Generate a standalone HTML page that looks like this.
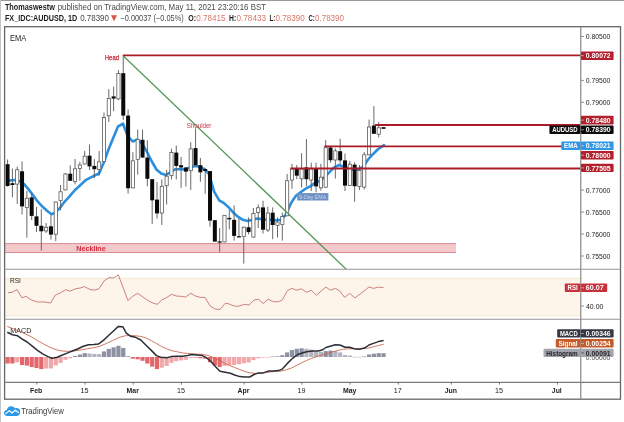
<!DOCTYPE html>
<html><head><meta charset="utf-8"><title>AUDUSD</title>
<style>html,body{margin:0;padding:0;background:#fff;}body{width:624px;height:422px;overflow:hidden;font-family:"Liberation Sans",sans-serif;}svg{display:block;will-change:transform;transform:translateZ(0)}text{font-family:"Liberation Sans",sans-serif;}</style>
</head><body>
<svg width="624" height="422" viewBox="0 0 624 422">
<rect x="0" y="0" width="624" height="422" fill="#fff"/>
<rect x="0" y="0" width="624" height="1" fill="#9a9a9a"/>
<rect x="0" y="0" width="1" height="422" fill="#c4c4c4"/>
<text x="4.9" y="10.1" font-size="8.4" fill="#1c1c1c" font-weight="bold" text-anchor="start" textLength="50" lengthAdjust="spacingAndGlyphs" >Thomaswestw</text>
<text x="57.7" y="10.1" font-size="8.4" fill="#4a4a4a" font-weight="normal" text-anchor="start" textLength="208.3" lengthAdjust="spacingAndGlyphs" >published on TradingView.com, May 11, 2021 23:20:16 BST</text>
<text x="4.9" y="20.8" font-size="8.4" fill="#1c1c1c" font-weight="bold" text-anchor="start" textLength="72.4" lengthAdjust="spacingAndGlyphs" >FX_IDC:AUDUSD, 1D</text>
<text x="80.2" y="20.8" font-size="8.4" fill="#4a4a4a" font-weight="normal" text-anchor="start" textLength="28.8" lengthAdjust="spacingAndGlyphs" >0.78390</text>
<path d="M111 15.2 L117 15.2 L114 21.2 Z" fill="#d9553f"/>
<text x="120.4" y="20.8" font-size="8.4" fill="#4a4a4a" font-weight="normal" text-anchor="start" textLength="63.4" lengthAdjust="spacingAndGlyphs" >−0.00037 (−0.05%)</text>
<text x="188.2" y="20.8" font-size="8.4" fill="#1c1c1c" font-weight="bold" text-anchor="start" textLength="7.8" lengthAdjust="spacingAndGlyphs" >O:</text>
<text x="196.2" y="20.8" font-size="8.4" fill="#d8786a" font-weight="normal" text-anchor="start" textLength="29.2" lengthAdjust="spacingAndGlyphs" >0.78415</text>
<text x="229.1" y="20.8" font-size="8.4" fill="#1c1c1c" font-weight="bold" text-anchor="start" textLength="7.2" lengthAdjust="spacingAndGlyphs" >H:</text>
<text x="236.5" y="20.8" font-size="8.4" fill="#d8786a" font-weight="normal" text-anchor="start" textLength="29.5" lengthAdjust="spacingAndGlyphs" >0.78433</text>
<text x="269.5" y="20.8" font-size="8.4" fill="#1c1c1c" font-weight="bold" text-anchor="start" textLength="5.8" lengthAdjust="spacingAndGlyphs" >L:</text>
<text x="275.5" y="20.8" font-size="8.4" fill="#d8786a" font-weight="normal" text-anchor="start" textLength="29.2" lengthAdjust="spacingAndGlyphs" >0.78390</text>
<text x="308.5" y="20.8" font-size="8.4" fill="#1c1c1c" font-weight="bold" text-anchor="start" textLength="6.3" lengthAdjust="spacingAndGlyphs" >C:</text>
<text x="315" y="20.8" font-size="8.4" fill="#d8786a" font-weight="normal" text-anchor="start" textLength="29" lengthAdjust="spacingAndGlyphs" >0.78390</text>
<rect x="4.5" y="278.3" width="576" height="37.5" fill="#fdf5e9"/>
<line x1="4.5" y1="278.3" x2="580.5" y2="278.3" stroke="#f6e3c8" stroke-width="0.8"/>
<line x1="4.5" y1="315.8" x2="580.5" y2="315.8" stroke="#f6e3c8" stroke-width="0.8"/>
<rect x="4.5" y="243.4" width="451.5" height="9.2" fill="#f3c9cc"/>
<line x1="4.5" y1="243.6" x2="456" y2="243.6" stroke="#dd8b95" stroke-width="1"/>
<line x1="4.5" y1="252.5" x2="456" y2="252.5" stroke="#dd8b95" stroke-width="1"/>
<text x="91" y="251.3" font-size="7.2" fill="#d02c3a" font-weight="bold" text-anchor="middle" textLength="29.5" lengthAdjust="spacingAndGlyphs" >Neckline</text>
<defs><clipPath id="mp"><rect x="4.5" y="27" width="576" height="242.3"/></clipPath></defs>
<polyline points="8.5,180.6 12.0,180.2 15.0,180.0 19.9,181.3 24.1,184.1 28.4,189.1 32.7,194.8 36.9,200.5 42.6,206.8 47.0,210.8 51.5,214.3 55.5,212.3 60.0,207.8 64.5,201.8 69.5,196.4 75.0,190.0 80.5,185.0 86.0,179.8 93.0,176.3 99.0,173.5 103.7,162.8 108.4,149.8 113.2,137.9 118.0,126.5 123.1,123.7 127.4,135.5 132.6,141.5 136.9,139.8 142.0,143.3 146.8,151.5 151.6,161.0 156.4,169.5 161.2,173.6 166.0,175.0 170.8,172.0 175.5,169.2 180.3,169.2 185.0,169.4 190.0,167.5 195.0,165.9 199.7,166.8 204.5,169.2 209.3,174.5 214.0,191.3 219.2,200.3 224.0,203.2 228.7,207.4 233.4,212.7 238.2,216.9 242.9,219.8 247.7,220.9 252.4,219.8 257.4,218.6 262.1,219.3 267.1,219.8 271.8,219.8 276.6,220.2 281.3,219.8 286.3,213.8 291.1,203.0 295.9,195.8 300.6,192.3 305.6,188.7 310.3,186.4 315.3,182.6 320.0,181.1 324.8,176.9 329.5,172.1 334.2,167.4 339.2,165.0 344.0,166.9 349.0,168.6 353.7,169.8 358.4,169.3 363.2,166.6 368.1,159.5 372.9,154.2 377.7,149.5 384.0,145.0" fill="none" stroke="#2b8fe0" stroke-width="2.6" stroke-linejoin="round" stroke-linecap="round"/>
<g>
<line x1="7.58" y1="159.5" x2="7.58" y2="186.7" stroke="#585858" stroke-width="0.9"/>
<rect x="5.58" y="164.2" width="4.0" height="21.8" fill="#0a0a0a"/>
<line x1="12.40" y1="168.5" x2="12.40" y2="197.4" stroke="#585858" stroke-width="0.9"/>
<rect x="10.40" y="183.2" width="4.0" height="1.8" fill="#0a0a0a"/>
<line x1="17.22" y1="166.6" x2="17.22" y2="204.0" stroke="#585858" stroke-width="0.9"/>
<rect x="15.62" y="169.8" width="3.2" height="14.3" fill="#fff" stroke="#505050" stroke-width="0.75"/>
<line x1="22.04" y1="161.4" x2="22.04" y2="214.5" stroke="#585858" stroke-width="0.9"/>
<rect x="20.04" y="171.3" width="4.0" height="35.1" fill="#0a0a0a"/>
<line x1="26.86" y1="190.8" x2="26.86" y2="237.7" stroke="#585858" stroke-width="0.9"/>
<rect x="25.26" y="198.3" width="3.2" height="9.3" fill="#fff" stroke="#505050" stroke-width="0.75"/>
<line x1="31.68" y1="192.7" x2="31.68" y2="220.0" stroke="#585858" stroke-width="0.9"/>
<rect x="29.68" y="197.4" width="4.0" height="18.5" fill="#0a0a0a"/>
<line x1="36.50" y1="206.9" x2="36.50" y2="231.8" stroke="#585858" stroke-width="0.9"/>
<rect x="34.50" y="216.4" width="4.0" height="9.4" fill="#0a0a0a"/>
<line x1="41.32" y1="209.2" x2="41.32" y2="250.5" stroke="#585858" stroke-width="0.9"/>
<rect x="39.32" y="225.8" width="4.0" height="5.5" fill="#0a0a0a"/>
<line x1="46.14" y1="223.0" x2="46.14" y2="233.0" stroke="#585858" stroke-width="0.9"/>
<rect x="44.54" y="227.3" width="3.2" height="3.6" fill="#fff" stroke="#505050" stroke-width="0.75"/>
<line x1="50.96" y1="215.2" x2="50.96" y2="239.6" stroke="#585858" stroke-width="0.9"/>
<rect x="48.96" y="226.3" width="4.0" height="8.3" fill="#0a0a0a"/>
<line x1="55.78" y1="201.7" x2="55.78" y2="241.2" stroke="#585858" stroke-width="0.9"/>
<rect x="54.18" y="202.0" width="3.2" height="32.2" fill="#fff" stroke="#505050" stroke-width="0.75"/>
<line x1="60.60" y1="185.0" x2="60.60" y2="210.4" stroke="#585858" stroke-width="0.9"/>
<rect x="59.00" y="191.8" width="3.2" height="8.8" fill="#fff" stroke="#505050" stroke-width="0.75"/>
<line x1="65.42" y1="173.0" x2="65.42" y2="190.3" stroke="#585858" stroke-width="0.9"/>
<rect x="63.82" y="174.0" width="3.2" height="15.9" fill="#fff" stroke="#505050" stroke-width="0.75"/>
<line x1="70.24" y1="165.4" x2="70.24" y2="181.0" stroke="#585858" stroke-width="0.9"/>
<rect x="68.24" y="173.7" width="4.0" height="7.1" fill="#0a0a0a"/>
<line x1="75.06" y1="159.0" x2="75.06" y2="184.4" stroke="#585858" stroke-width="0.9"/>
<rect x="73.46" y="168.8" width="3.2" height="12.8" fill="#fff" stroke="#505050" stroke-width="0.75"/>
<line x1="79.88" y1="161.8" x2="79.88" y2="180.8" stroke="#585858" stroke-width="0.9"/>
<rect x="78.28" y="165.0" width="3.2" height="3.6" fill="#fff" stroke="#505050" stroke-width="0.75"/>
<line x1="84.70" y1="151.0" x2="84.70" y2="164.5" stroke="#585858" stroke-width="0.9"/>
<rect x="83.10" y="156.2" width="3.2" height="7.8" fill="#fff" stroke="#505050" stroke-width="0.75"/>
<line x1="89.52" y1="144.5" x2="89.52" y2="170.0" stroke="#585858" stroke-width="0.9"/>
<rect x="87.52" y="155.7" width="4.0" height="10.7" fill="#0a0a0a"/>
<line x1="94.34" y1="159.2" x2="94.34" y2="178.2" stroke="#585858" stroke-width="0.9"/>
<rect x="92.34" y="165.9" width="4.0" height="3.3" fill="#0a0a0a"/>
<line x1="99.16" y1="151.0" x2="99.16" y2="175.8" stroke="#585858" stroke-width="0.9"/>
<rect x="97.56" y="161.9" width="3.2" height="7.7" fill="#fff" stroke="#505050" stroke-width="0.75"/>
<line x1="103.98" y1="112.5" x2="103.98" y2="162.0" stroke="#585858" stroke-width="0.9"/>
<rect x="102.38" y="117.5" width="3.2" height="44.1" fill="#fff" stroke="#505050" stroke-width="0.75"/>
<line x1="108.80" y1="89.1" x2="108.80" y2="122.0" stroke="#585858" stroke-width="0.9"/>
<rect x="107.20" y="98.4" width="3.2" height="17.4" fill="#fff" stroke="#505050" stroke-width="0.75"/>
<line x1="113.62" y1="86.7" x2="113.62" y2="111.1" stroke="#585858" stroke-width="0.9"/>
<rect x="111.62" y="96.4" width="4.0" height="2.2" fill="#0a0a0a"/>
<line x1="118.44" y1="70.1" x2="118.44" y2="100.0" stroke="#585858" stroke-width="0.9"/>
<rect x="116.84" y="73.5" width="3.2" height="25.4" fill="#fff" stroke="#505050" stroke-width="0.75"/>
<line x1="123.26" y1="55.2" x2="123.26" y2="120.0" stroke="#585858" stroke-width="0.9"/>
<rect x="121.26" y="73.2" width="4.0" height="42.4" fill="#0a0a0a"/>
<line x1="128.08" y1="109.4" x2="128.08" y2="193.6" stroke="#585858" stroke-width="0.9"/>
<rect x="126.08" y="115.6" width="4.0" height="72.6" fill="#0a0a0a"/>
<line x1="132.90" y1="152.2" x2="132.90" y2="188.2" stroke="#585858" stroke-width="0.9"/>
<rect x="131.30" y="160.8" width="3.2" height="27.1" fill="#fff" stroke="#505050" stroke-width="0.75"/>
<line x1="137.72" y1="129.6" x2="137.72" y2="174.6" stroke="#585858" stroke-width="0.9"/>
<rect x="136.12" y="139.4" width="3.2" height="19.9" fill="#fff" stroke="#505050" stroke-width="0.75"/>
<line x1="142.54" y1="129.6" x2="142.54" y2="157.6" stroke="#585858" stroke-width="0.9"/>
<rect x="140.54" y="139.8" width="4.0" height="17.8" fill="#0a0a0a"/>
<line x1="147.36" y1="140.3" x2="147.36" y2="186.3" stroke="#585858" stroke-width="0.9"/>
<rect x="145.36" y="157.6" width="4.0" height="21.2" fill="#0a0a0a"/>
<line x1="152.18" y1="179.0" x2="152.18" y2="224.0" stroke="#585858" stroke-width="0.9"/>
<rect x="150.18" y="179.2" width="4.0" height="21.1" fill="#0a0a0a"/>
<line x1="157.00" y1="182.0" x2="157.00" y2="218.6" stroke="#585858" stroke-width="0.9"/>
<rect x="155.00" y="199.6" width="4.0" height="13.8" fill="#0a0a0a"/>
<line x1="161.82" y1="179.4" x2="161.82" y2="225.0" stroke="#585858" stroke-width="0.9"/>
<rect x="160.22" y="186.3" width="3.2" height="26.7" fill="#fff" stroke="#505050" stroke-width="0.75"/>
<line x1="166.64" y1="170.0" x2="166.64" y2="204.4" stroke="#585858" stroke-width="0.9"/>
<rect x="165.04" y="176.2" width="3.2" height="9.5" fill="#fff" stroke="#505050" stroke-width="0.75"/>
<line x1="171.46" y1="148.6" x2="171.46" y2="179.5" stroke="#585858" stroke-width="0.9"/>
<rect x="169.86" y="152.4" width="3.2" height="23.0" fill="#fff" stroke="#505050" stroke-width="0.75"/>
<line x1="176.28" y1="145.5" x2="176.28" y2="179.4" stroke="#585858" stroke-width="0.9"/>
<rect x="174.28" y="152.6" width="4.0" height="13.3" fill="#0a0a0a"/>
<line x1="181.10" y1="156.9" x2="181.10" y2="187.8" stroke="#585858" stroke-width="0.9"/>
<rect x="179.10" y="165.2" width="4.0" height="2.3" fill="#0a0a0a"/>
<line x1="185.92" y1="167.0" x2="185.92" y2="186.5" stroke="#585858" stroke-width="0.9"/>
<rect x="183.92" y="167.5" width="4.0" height="4.1" fill="#0a0a0a"/>
<line x1="190.74" y1="142.2" x2="190.74" y2="190.0" stroke="#585858" stroke-width="0.9"/>
<rect x="189.14" y="148.9" width="3.2" height="21.8" fill="#fff" stroke="#505050" stroke-width="0.75"/>
<line x1="195.56" y1="128.4" x2="195.56" y2="165.2" stroke="#585858" stroke-width="0.9"/>
<rect x="193.56" y="148.1" width="4.0" height="17.1" fill="#0a0a0a"/>
<line x1="200.38" y1="158.0" x2="200.38" y2="181.8" stroke="#585858" stroke-width="0.9"/>
<rect x="198.38" y="165.2" width="4.0" height="7.1" fill="#0a0a0a"/>
<line x1="205.20" y1="168.7" x2="205.20" y2="193.7" stroke="#585858" stroke-width="0.9"/>
<rect x="203.20" y="169.0" width="4.0" height="2.0" fill="#0a0a0a"/>
<line x1="210.02" y1="171.0" x2="210.02" y2="226.6" stroke="#585858" stroke-width="0.9"/>
<rect x="208.02" y="171.1" width="4.0" height="49.5" fill="#0a0a0a"/>
<line x1="214.84" y1="220.0" x2="214.84" y2="241.6" stroke="#585858" stroke-width="0.9"/>
<rect x="212.84" y="220.2" width="4.0" height="21.4" fill="#0a0a0a"/>
<line x1="219.66" y1="228.0" x2="219.66" y2="251.8" stroke="#585858" stroke-width="0.9"/>
<rect x="217.66" y="241.4" width="4.0" height="1.2" fill="#0a0a0a"/>
<line x1="224.48" y1="215.0" x2="224.48" y2="242.3" stroke="#585858" stroke-width="0.9"/>
<rect x="222.88" y="215.3" width="3.2" height="26.6" fill="#fff" stroke="#505050" stroke-width="0.75"/>
<line x1="229.30" y1="210.3" x2="229.30" y2="229.2" stroke="#585858" stroke-width="0.9"/>
<rect x="227.30" y="217.9" width="4.0" height="1.4" fill="#0a0a0a"/>
<line x1="234.12" y1="205.5" x2="234.12" y2="240.6" stroke="#585858" stroke-width="0.9"/>
<rect x="232.12" y="219.8" width="4.0" height="16.1" fill="#0a0a0a"/>
<line x1="238.94" y1="218.6" x2="238.94" y2="237.5" stroke="#585858" stroke-width="0.9"/>
<rect x="236.94" y="236.2" width="4.0" height="1.2" fill="#0a0a0a"/>
<line x1="243.76" y1="226.5" x2="243.76" y2="263.6" stroke="#585858" stroke-width="0.9"/>
<rect x="242.16" y="227.2" width="3.2" height="9.4" fill="#fff" stroke="#505050" stroke-width="0.75"/>
<line x1="248.58" y1="217.4" x2="248.58" y2="234.5" stroke="#585858" stroke-width="0.9"/>
<rect x="246.58" y="227.3" width="4.0" height="4.8" fill="#0a0a0a"/>
<line x1="253.40" y1="207.9" x2="253.40" y2="237.5" stroke="#585858" stroke-width="0.9"/>
<rect x="251.80" y="213.4" width="3.2" height="23.7" fill="#fff" stroke="#505050" stroke-width="0.75"/>
<line x1="258.22" y1="204.4" x2="258.22" y2="228.0" stroke="#585858" stroke-width="0.9"/>
<rect x="256.62" y="207.8" width="3.2" height="4.6" fill="#fff" stroke="#505050" stroke-width="0.75"/>
<line x1="263.04" y1="200.8" x2="263.04" y2="233.5" stroke="#585858" stroke-width="0.9"/>
<rect x="261.04" y="207.4" width="4.0" height="22.3" fill="#0a0a0a"/>
<line x1="267.86" y1="206.7" x2="267.86" y2="232.0" stroke="#585858" stroke-width="0.9"/>
<rect x="266.26" y="213.0" width="3.2" height="17.0" fill="#fff" stroke="#505050" stroke-width="0.75"/>
<line x1="272.68" y1="207.4" x2="272.68" y2="239.2" stroke="#585858" stroke-width="0.9"/>
<rect x="270.68" y="212.7" width="4.0" height="12.3" fill="#0a0a0a"/>
<line x1="277.50" y1="217.4" x2="277.50" y2="237.5" stroke="#585858" stroke-width="0.9"/>
<rect x="275.90" y="222.0" width="3.2" height="3.3" fill="#fff" stroke="#505050" stroke-width="0.75"/>
<line x1="282.32" y1="212.7" x2="282.32" y2="240.6" stroke="#585858" stroke-width="0.9"/>
<rect x="280.72" y="216.5" width="3.2" height="8.1" fill="#fff" stroke="#505050" stroke-width="0.75"/>
<line x1="287.14" y1="174.0" x2="287.14" y2="216.2" stroke="#585858" stroke-width="0.9"/>
<rect x="285.54" y="180.8" width="3.2" height="35.0" fill="#fff" stroke="#505050" stroke-width="0.75"/>
<line x1="291.96" y1="163.8" x2="291.96" y2="188.7" stroke="#585858" stroke-width="0.9"/>
<rect x="290.36" y="168.9" width="3.2" height="11.2" fill="#fff" stroke="#505050" stroke-width="0.75"/>
<line x1="296.78" y1="165.0" x2="296.78" y2="179.2" stroke="#585858" stroke-width="0.9"/>
<rect x="294.78" y="168.6" width="4.0" height="7.1" fill="#0a0a0a"/>
<line x1="301.60" y1="153.2" x2="301.60" y2="187.5" stroke="#585858" stroke-width="0.9"/>
<rect x="300.00" y="168.9" width="3.2" height="9.9" fill="#fff" stroke="#505050" stroke-width="0.75"/>
<line x1="306.42" y1="139.0" x2="306.42" y2="186.4" stroke="#585858" stroke-width="0.9"/>
<rect x="304.42" y="167.4" width="4.0" height="11.8" fill="#0a0a0a"/>
<line x1="311.24" y1="162.7" x2="311.24" y2="191.0" stroke="#585858" stroke-width="0.9"/>
<rect x="309.64" y="168.9" width="3.2" height="11.1" fill="#fff" stroke="#505050" stroke-width="0.75"/>
<line x1="316.06" y1="162.7" x2="316.06" y2="192.3" stroke="#585858" stroke-width="0.9"/>
<rect x="314.06" y="168.6" width="4.0" height="17.8" fill="#0a0a0a"/>
<line x1="320.88" y1="163.8" x2="320.88" y2="190.6" stroke="#585858" stroke-width="0.9"/>
<rect x="319.28" y="177.2" width="3.2" height="10.6" fill="#fff" stroke="#505050" stroke-width="0.75"/>
<line x1="325.70" y1="140.1" x2="325.70" y2="187.5" stroke="#585858" stroke-width="0.9"/>
<rect x="324.10" y="147.7" width="3.2" height="39.5" fill="#fff" stroke="#505050" stroke-width="0.75"/>
<line x1="330.52" y1="147.0" x2="330.52" y2="162.7" stroke="#585858" stroke-width="0.9"/>
<rect x="328.52" y="147.5" width="4.0" height="12.7" fill="#0a0a0a"/>
<line x1="335.34" y1="148.4" x2="335.34" y2="178.5" stroke="#585858" stroke-width="0.9"/>
<rect x="333.74" y="150.9" width="3.2" height="9.1" fill="#fff" stroke="#505050" stroke-width="0.75"/>
<line x1="340.16" y1="138.8" x2="340.16" y2="163.8" stroke="#585858" stroke-width="0.9"/>
<rect x="338.16" y="151.2" width="4.0" height="9.2" fill="#0a0a0a"/>
<line x1="344.98" y1="153.6" x2="344.98" y2="191.0" stroke="#585858" stroke-width="0.9"/>
<rect x="342.98" y="160.4" width="4.0" height="25.2" fill="#0a0a0a"/>
<line x1="349.80" y1="161.0" x2="349.80" y2="186.0" stroke="#585858" stroke-width="0.9"/>
<rect x="348.20" y="164.2" width="3.2" height="21.4" fill="#fff" stroke="#505050" stroke-width="0.75"/>
<line x1="354.62" y1="162.3" x2="354.62" y2="201.8" stroke="#585858" stroke-width="0.9"/>
<rect x="352.62" y="164.6" width="4.0" height="21.6" fill="#0a0a0a"/>
<line x1="359.44" y1="165.0" x2="359.44" y2="190.0" stroke="#585858" stroke-width="0.9"/>
<rect x="357.84" y="170.5" width="3.2" height="16.1" fill="#fff" stroke="#505050" stroke-width="0.75"/>
<line x1="364.26" y1="152.0" x2="364.26" y2="189.5" stroke="#585858" stroke-width="0.9"/>
<rect x="362.66" y="154.8" width="3.2" height="32.3" fill="#fff" stroke="#505050" stroke-width="0.75"/>
<line x1="369.08" y1="119.6" x2="369.08" y2="155.2" stroke="#585858" stroke-width="0.9"/>
<rect x="367.48" y="127.0" width="3.2" height="27.8" fill="#fff" stroke="#505050" stroke-width="0.75"/>
<line x1="373.90" y1="106.1" x2="373.90" y2="133.8" stroke="#585858" stroke-width="0.9"/>
<rect x="371.90" y="125.5" width="4.0" height="8.3" fill="#0a0a0a"/>
<line x1="378.72" y1="122.0" x2="378.72" y2="137.4" stroke="#585858" stroke-width="0.9"/>
<rect x="377.12" y="127.8" width="3.2" height="6.4" fill="#fff" stroke="#505050" stroke-width="0.75"/>
<line x1="383.54" y1="127.2" x2="383.54" y2="128.8" stroke="#585858" stroke-width="0.9"/>
<rect x="381.54" y="127.2" width="4.0" height="1.6" fill="#0a0a0a"/>
</g>
<g clip-path="url(#mp)">
<line x1="123.4" y1="56" x2="352" y2="274.8" stroke="#54985a" stroke-width="1.3"/>
</g>
<line x1="122.9" y1="55.3" x2="580.5" y2="55.3" stroke="#ab1c2a" stroke-width="1.7"/>
<line x1="375" y1="125" x2="580.5" y2="125" stroke="#ab1c2a" stroke-width="1.8"/>
<line x1="324.3" y1="146.4" x2="580.5" y2="146.4" stroke="#ab1c2a" stroke-width="1.8"/>
<line x1="290.4" y1="168.5" x2="580.5" y2="168.5" stroke="#ab1c2a" stroke-width="1.8"/>
<rect x="297.2" y="193.1" width="31.2" height="7.4" fill="#6e8fc2"/>
<text x="312.8" y="199.2" font-size="5.6" fill="#c6d6ee" font-weight="normal" text-anchor="middle" textLength="27" lengthAdjust="spacingAndGlyphs" >9-Day EMA</text>
<text x="104.8" y="60" font-size="6.6" fill="#bf2c3c" font-weight="normal" text-anchor="start" textLength="14.2" lengthAdjust="spacingAndGlyphs" stroke="#bf2c3c" stroke-width="0.25">Head</text>
<text x="186.8" y="128.3" font-size="6.3" fill="#c43646" font-weight="normal" text-anchor="start" textLength="24.6" lengthAdjust="spacingAndGlyphs" >Shoulder</text>
<text x="10" y="40.5" font-size="8.2" fill="#222" font-weight="normal" text-anchor="start" textLength="16.2" lengthAdjust="spacingAndGlyphs" >EMA</text>
<text x="10" y="283.4" font-size="8" fill="#222" font-weight="normal" text-anchor="start" textLength="10.8" lengthAdjust="spacingAndGlyphs" >RSI</text>
<text x="10.3" y="333" font-size="8" fill="#222" font-weight="normal" text-anchor="start" textLength="21" lengthAdjust="spacingAndGlyphs" >MACD</text>
<polyline points="7.9,292.8 12.5,292.2 17.0,289.5 21.9,297.8 26.0,296.4 31.3,299.9 37.5,302.0 44.8,302.0 50.6,303.0 55.2,295.3 60.4,292.8 65.6,289.7 69.8,291.2 76.0,288.7 80.2,288.0 84.4,286.6 90.0,289.5 94.8,290.1 99.0,288.7 104.2,280.8 109.0,277.6 113.5,278.0 118.3,274.9 122.9,287.0 127.9,300.5 132.5,296.4 137.7,293.3 142.9,297.0 148.1,300.5 153.3,303.3 157.5,304.3 161.7,299.9 165.8,298.0 171.7,294.3 176.3,296.0 181.5,296.4 185.6,297.0 190.8,293.3 195.4,296.0 200.2,297.4 205.0,297.4 210.0,305.8 214.8,308.9 220.0,309.5 225.2,303.3 228.3,303.7 233.5,305.8 237.7,306.4 244.6,304.3 249.0,305.1 254.1,300.0 258.5,299.2 263.1,303.5 268.2,299.2 273.3,301.7 278.5,301.7 282.3,300.0 287.4,290.7 292.0,288.4 296.4,290.2 301.5,288.9 306.7,292.3 311.3,290.2 316.4,295.3 321.5,290.7 325.9,287.1 330.3,290.2 335.4,288.4 339.5,290.7 344.6,297.4 349.7,293.3 354.9,297.9 360.0,294.1 365.1,290.2 369.0,286.9 373.3,288.4 378.5,287.1 383.6,287.6" fill="none" stroke="#c9827c" stroke-width="1" stroke-linejoin="round"/>
<rect x="5.48" y="357.0" width="4.2" height="6.5" fill="#e2666a"/>
<rect x="10.30" y="357.0" width="4.2" height="6.5" fill="#e2666a"/>
<rect x="15.12" y="357.0" width="4.2" height="5.3" fill="#f1a8aa"/>
<rect x="19.94" y="357.0" width="4.2" height="8.0" fill="#e2666a"/>
<rect x="24.76" y="357.0" width="4.2" height="8.6" fill="#e2666a"/>
<rect x="29.58" y="357.0" width="4.2" height="10.0" fill="#e2666a"/>
<rect x="34.40" y="357.0" width="4.2" height="11.0" fill="#e2666a"/>
<rect x="39.22" y="357.0" width="4.2" height="12.1" fill="#e2666a"/>
<rect x="44.04" y="357.0" width="4.2" height="11.5" fill="#f1a8aa"/>
<rect x="48.86" y="357.0" width="4.2" height="11.5" fill="#f1a8aa"/>
<rect x="53.68" y="357.0" width="4.2" height="8.4" fill="#f1a8aa"/>
<rect x="58.50" y="357.0" width="4.2" height="5.9" fill="#f1a8aa"/>
<rect x="63.32" y="357.0" width="4.2" height="2.8" fill="#f1a8aa"/>
<rect x="68.14" y="357.0" width="4.2" height="1.3" fill="#f1a8aa"/>
<rect x="72.96" y="356.0" width="4.2" height="1.0" fill="#8d91a2"/>
<rect x="77.78" y="354.5" width="4.2" height="2.5" fill="#8d91a2"/>
<rect x="82.60" y="353.1" width="4.2" height="3.9" fill="#8d91a2"/>
<rect x="87.42" y="353.5" width="4.2" height="3.5" fill="#b2b5c0"/>
<rect x="92.24" y="353.9" width="4.2" height="3.1" fill="#b2b5c0"/>
<rect x="97.06" y="354.1" width="4.2" height="2.9" fill="#b2b5c0"/>
<rect x="101.88" y="351.4" width="4.2" height="5.6" fill="#8d91a2"/>
<rect x="106.70" y="348.9" width="4.2" height="8.1" fill="#8d91a2"/>
<rect x="111.52" y="347.3" width="4.2" height="9.7" fill="#8d91a2"/>
<rect x="116.34" y="345.8" width="4.2" height="11.2" fill="#8d91a2"/>
<rect x="121.16" y="347.9" width="4.2" height="9.1" fill="#8d91a2"/>
<rect x="125.98" y="356.0" width="4.2" height="1.0" fill="#b2b5c0"/>
<rect x="130.80" y="357.0" width="4.2" height="1.7" fill="#e2666a"/>
<rect x="135.62" y="357.0" width="4.2" height="2.3" fill="#e2666a"/>
<rect x="140.44" y="357.0" width="4.2" height="3.8" fill="#e2666a"/>
<rect x="145.26" y="357.0" width="4.2" height="6.5" fill="#e2666a"/>
<rect x="150.08" y="357.0" width="4.2" height="9.6" fill="#e2666a"/>
<rect x="154.90" y="357.0" width="4.2" height="12.1" fill="#e2666a"/>
<rect x="159.72" y="357.0" width="4.2" height="10.7" fill="#f1a8aa"/>
<rect x="164.54" y="357.0" width="4.2" height="9.0" fill="#f1a8aa"/>
<rect x="169.36" y="357.0" width="4.2" height="5.9" fill="#f1a8aa"/>
<rect x="174.18" y="357.0" width="4.2" height="4.2" fill="#f1a8aa"/>
<rect x="179.00" y="357.0" width="4.2" height="3.4" fill="#f1a8aa"/>
<rect x="183.82" y="357.0" width="4.2" height="2.8" fill="#f1a8aa"/>
<rect x="188.64" y="357.0" width="4.2" height="1.1" fill="#f1a8aa"/>
<rect x="193.46" y="357.0" width="4.2" height="1.0" fill="#f1a8aa"/>
<rect x="198.28" y="357.0" width="4.2" height="1.3" fill="#e2666a"/>
<rect x="203.10" y="357.0" width="4.2" height="1.7" fill="#e2666a"/>
<rect x="207.92" y="357.0" width="4.2" height="5.3" fill="#e2666a"/>
<rect x="212.74" y="357.0" width="4.2" height="8.4" fill="#e2666a"/>
<rect x="217.56" y="357.0" width="4.2" height="10.0" fill="#e2666a"/>
<rect x="222.38" y="357.0" width="4.2" height="9.0" fill="#f1a8aa"/>
<rect x="227.20" y="357.0" width="4.2" height="8.4" fill="#f1a8aa"/>
<rect x="232.02" y="357.0" width="4.2" height="8.0" fill="#f1a8aa"/>
<rect x="236.84" y="357.0" width="4.2" height="7.3" fill="#f1a8aa"/>
<rect x="241.66" y="357.0" width="4.2" height="6.2" fill="#f1a8aa"/>
<rect x="246.48" y="357.0" width="4.2" height="5.5" fill="#f1a8aa"/>
<rect x="251.30" y="357.0" width="4.2" height="3.1" fill="#f1a8aa"/>
<rect x="256.12" y="357.0" width="4.2" height="1.3" fill="#f1a8aa"/>
<rect x="260.94" y="357.0" width="4.2" height="0.6" fill="#f1a8aa"/>
<rect x="265.76" y="357.0" width="4.2" height="0.6" fill="#f1a8aa"/>
<rect x="270.58" y="356.5" width="4.2" height="0.6" fill="#8d91a2"/>
<rect x="275.40" y="356.3" width="4.2" height="0.7" fill="#8d91a2"/>
<rect x="280.22" y="355.2" width="4.2" height="1.8" fill="#8d91a2"/>
<rect x="285.04" y="352.4" width="4.2" height="4.6" fill="#8d91a2"/>
<rect x="289.86" y="350.1" width="4.2" height="6.9" fill="#8d91a2"/>
<rect x="294.68" y="348.8" width="4.2" height="8.2" fill="#8d91a2"/>
<rect x="299.50" y="348.3" width="4.2" height="8.7" fill="#8d91a2"/>
<rect x="304.32" y="348.8" width="4.2" height="8.2" fill="#b2b5c0"/>
<rect x="309.14" y="349.6" width="4.2" height="7.4" fill="#b2b5c0"/>
<rect x="313.96" y="351.4" width="4.2" height="5.6" fill="#b2b5c0"/>
<rect x="318.78" y="351.9" width="4.2" height="5.1" fill="#b2b5c0"/>
<rect x="323.60" y="351.1" width="4.2" height="5.9" fill="#8d91a2"/>
<rect x="328.42" y="350.6" width="4.2" height="6.4" fill="#8d91a2"/>
<rect x="333.24" y="351.1" width="4.2" height="5.9" fill="#b2b5c0"/>
<rect x="338.06" y="352.4" width="4.2" height="4.6" fill="#b2b5c0"/>
<rect x="342.88" y="355.0" width="4.2" height="2.0" fill="#b2b5c0"/>
<rect x="347.70" y="355.5" width="4.2" height="1.5" fill="#b2b5c0"/>
<rect x="352.52" y="356.8" width="4.2" height="0.6" fill="#b2b5c0"/>
<rect x="357.34" y="356.8" width="4.2" height="0.6" fill="#b2b5c0"/>
<rect x="362.16" y="356.5" width="4.2" height="0.6" fill="#8d91a2"/>
<rect x="366.98" y="354.5" width="4.2" height="2.5" fill="#8d91a2"/>
<rect x="371.80" y="353.7" width="4.2" height="3.3" fill="#8d91a2"/>
<rect x="376.62" y="353.2" width="4.2" height="3.8" fill="#8d91a2"/>
<rect x="381.44" y="353.2" width="4.2" height="3.8" fill="#8d91a2"/>
<polyline points="7.3,326.4 12.5,328.5 18.8,331.0 25.0,333.7 31.3,336.8 37.5,340.6 43.8,344.1 50.0,347.3 56.3,349.8 62.5,351.0 68.8,351.4 75.0,350.8 81.3,349.8 87.5,348.7 93.8,347.7 100.0,346.2 106.3,343.5 112.5,340.6 118.8,337.5 125.2,335.8 130.4,335.4 135.6,335.8 140.8,336.4 146.0,337.9 151.3,340.6 156.5,343.5 161.7,346.6 166.9,348.9 172.1,350.8 177.3,351.8 182.5,352.9 187.7,353.5 192.9,353.9 198.1,354.1 203.3,354.5 208.5,355.6 213.8,357.7 219.0,360.2 224.2,362.9 229.4,365.4 234.6,367.5 239.8,369.5 245.1,371.6 250.3,372.9 255.4,373.4 260.5,373.2 265.6,372.7 270.8,371.9 275.9,371.4 281.0,371.1 286.2,369.8 291.3,368.1 296.4,365.5 301.5,362.9 306.7,360.4 311.8,358.3 316.9,356.5 322.1,355.0 327.2,353.7 332.3,351.9 337.4,350.6 342.6,349.3 347.7,348.8 352.8,348.6 357.9,348.8 363.1,348.6 368.2,348.1 373.3,346.8 378.5,345.5 383.6,344.2" fill="none" stroke="#c8694f" stroke-width="0.9" stroke-linejoin="round"/>
<polyline points="7.3,332.3 12.5,334.8 17.7,335.8 21.9,338.9 27.1,342.0 32.3,346.2 37.5,350.4 42.7,353.9 47.9,356.6 52.1,358.3 57.3,357.3 62.5,355.0 67.7,352.9 72.9,350.8 78.1,348.7 83.3,346.2 88.5,344.8 93.8,344.5 98.3,344.1 103.1,340.6 108.3,335.8 113.5,331.0 118.3,326.4 122.9,326.8 126.3,333.1 130.4,336.2 135.6,337.3 140.8,340.0 146.0,345.2 151.3,350.4 156.5,355.6 160.6,357.3 166.9,357.7 171.0,356.6 176.3,356.2 182.5,356.2 187.7,355.6 191.9,354.5 197.1,355.0 202.3,355.6 206.5,357.7 211.7,362.3 215.8,367.0 220.0,371.2 225.2,372.3 230.4,373.3 234.6,375.0 239.8,376.6 245.0,377.0 249.7,377.0 254.1,374.5 258.5,372.9 263.1,372.9 268.2,371.1 273.3,371.1 278.5,370.6 282.3,369.1 287.4,363.4 292.6,358.3 297.7,354.5 302.8,352.7 307.9,351.4 313.1,351.1 318.2,351.1 322.1,350.1 325.9,347.5 331.0,346.0 335.4,344.7 340.0,345.0 345.1,347.3 349.7,347.3 354.1,348.8 359.2,349.3 364.4,348.1 369.0,345.0 373.3,343.4 378.5,341.6 383.6,340.4" fill="none" stroke="#2c2f36" stroke-width="1.5" stroke-linejoin="round"/>
<rect x="4.6" y="26.7" width="615.9" height="372.5" fill="none" stroke="#686868" stroke-width="1.3"/>
<line x1="580.8" y1="26.7" x2="580.8" y2="399.2" stroke="#7c7c7c" stroke-width="1.1"/>
<line x1="4.6" y1="269.3" x2="620.5" y2="269.3" stroke="#959595" stroke-width="1.1"/>
<line x1="4.6" y1="319.2" x2="620.5" y2="319.2" stroke="#959595" stroke-width="1.1"/>
<line x1="4.6" y1="382.4" x2="620.5" y2="382.4" stroke="#7c7c7c" stroke-width="1.1"/>
<line x1="581" y1="36.5" x2="584" y2="36.5" stroke="#777" stroke-width="0.8"/>
<text x="585.8" y="39.199999999999804" font-size="7.4" fill="#222" font-weight="normal" text-anchor="start" textLength="24.6" lengthAdjust="spacingAndGlyphs" >0.80500</text>
<line x1="581" y1="80.4" x2="584" y2="80.4" stroke="#777" stroke-width="0.8"/>
<text x="585.8" y="83.09999999999987" font-size="7.4" fill="#222" font-weight="normal" text-anchor="start" textLength="24.6" lengthAdjust="spacingAndGlyphs" >0.79500</text>
<line x1="581" y1="102.3" x2="584" y2="102.3" stroke="#777" stroke-width="0.8"/>
<text x="585.8" y="105.04999999999988" font-size="7.4" fill="#222" font-weight="normal" text-anchor="start" textLength="24.6" lengthAdjust="spacingAndGlyphs" >0.79000</text>
<line x1="581" y1="190.1" x2="584" y2="190.1" stroke="#777" stroke-width="0.8"/>
<text x="585.8" y="192.84999999999994" font-size="7.4" fill="#222" font-weight="normal" text-anchor="start" textLength="24.6" lengthAdjust="spacingAndGlyphs" >0.77000</text>
<line x1="581" y1="212.1" x2="584" y2="212.1" stroke="#777" stroke-width="0.8"/>
<text x="585.8" y="214.79999999999995" font-size="7.4" fill="#222" font-weight="normal" text-anchor="start" textLength="24.6" lengthAdjust="spacingAndGlyphs" >0.76500</text>
<line x1="581" y1="234.0" x2="584" y2="234.0" stroke="#777" stroke-width="0.8"/>
<text x="585.8" y="236.74999999999997" font-size="7.4" fill="#222" font-weight="normal" text-anchor="start" textLength="24.6" lengthAdjust="spacingAndGlyphs" >0.76000</text>
<line x1="581" y1="256.0" x2="584" y2="256.0" stroke="#777" stroke-width="0.8"/>
<text x="585.8" y="258.7" font-size="7.4" fill="#222" font-weight="normal" text-anchor="start" textLength="24.6" lengthAdjust="spacingAndGlyphs" >0.75500</text>
<rect x="581" y="51.4" width="32.6" height="8.6" fill="#b3202c" rx="1"/>
<line x1="581" y1="55.7" x2="584" y2="55.7" stroke="#fff" stroke-width="0.7" opacity="0.7"/>
<text x="585.8" y="58.400000000000006" font-size="7.4" fill="#fff" font-weight="bold" text-anchor="start" textLength="24.8" lengthAdjust="spacingAndGlyphs" >0.80072</text>
<rect x="581" y="115.8" width="32.6" height="8.6" fill="#b3202c" rx="1"/>
<line x1="581" y1="120.1" x2="584" y2="120.1" stroke="#fff" stroke-width="0.7" opacity="0.7"/>
<text x="585.8" y="122.8" font-size="7.4" fill="#fff" font-weight="bold" text-anchor="start" textLength="24.8" lengthAdjust="spacingAndGlyphs" >0.78480</text>
<rect x="581" y="125.5" width="32.6" height="8.5" fill="#0c0c0c" rx="1"/>
<line x1="581" y1="129.8" x2="584" y2="129.8" stroke="#fff" stroke-width="0.7" opacity="0.7"/>
<text x="585.8" y="132.45" font-size="7.4" fill="#fff" font-weight="bold" text-anchor="start" textLength="24.8" lengthAdjust="spacingAndGlyphs" >0.78390</text>
<rect x="549.4" y="125.5" width="31.0" height="8.5" fill="#0c0c0c" rx="1"/>
<text x="564.9" y="132.35" font-size="7" fill="#fff" font-weight="bold" text-anchor="middle" textLength="25.5" lengthAdjust="spacingAndGlyphs" >AUDUSD</text>
<rect x="581" y="141.6" width="32.6" height="8.3" fill="#2e97e8" rx="1"/>
<line x1="581" y1="145.8" x2="584" y2="145.8" stroke="#fff" stroke-width="0.7" opacity="0.7"/>
<text x="585.8" y="148.45" font-size="7.4" fill="#fff" font-weight="bold" text-anchor="start" textLength="24.8" lengthAdjust="spacingAndGlyphs" >0.78021</text>
<rect x="561.3" y="141.6" width="19.1" height="8.3" fill="#2e97e8" rx="1"/>
<text x="570.8499999999999" y="148.35" font-size="7" fill="#fff" font-weight="bold" text-anchor="middle" textLength="13.600000000000023" lengthAdjust="spacingAndGlyphs" >EMA</text>
<rect x="581" y="151.1" width="32.6" height="8.3" fill="#b3202c" rx="1"/>
<line x1="581" y1="155.2" x2="584" y2="155.2" stroke="#fff" stroke-width="0.7" opacity="0.7"/>
<text x="585.8" y="157.95" font-size="7.4" fill="#fff" font-weight="bold" text-anchor="start" textLength="24.8" lengthAdjust="spacingAndGlyphs" >0.78000</text>
<rect x="581" y="163.8" width="32.6" height="8.2" fill="#b3202c" rx="1"/>
<line x1="581" y1="167.9" x2="584" y2="167.9" stroke="#fff" stroke-width="0.7" opacity="0.7"/>
<text x="585.8" y="170.6" font-size="7.4" fill="#fff" font-weight="bold" text-anchor="start" textLength="24.8" lengthAdjust="spacingAndGlyphs" >0.77505</text>
<rect x="581" y="283.6" width="26.2" height="8.3" fill="#c9303c" rx="1"/>
<line x1="581" y1="287.8" x2="584" y2="287.8" stroke="#fff" stroke-width="0.7" opacity="0.7"/>
<text x="585.8" y="290.45" font-size="7.4" fill="#fff" font-weight="bold" text-anchor="start" textLength="18" lengthAdjust="spacingAndGlyphs" >60.07</text>
<rect x="564.8" y="283.6" width="15.6" height="8.3" fill="#c9303c" rx="1"/>
<text x="572.5999999999999" y="290.35" font-size="7" fill="#fff" font-weight="bold" text-anchor="middle" textLength="10.100000000000023" lengthAdjust="spacingAndGlyphs" >RSI</text>
<line x1="581" y1="306" x2="584" y2="306" stroke="#777" stroke-width="0.8"/>
<text x="586" y="308.7" font-size="7.4" fill="#222" font-weight="normal" text-anchor="start" textLength="17.4" lengthAdjust="spacingAndGlyphs" >40.00</text>
<text x="585.8" y="360.2" font-size="7.4" fill="#444" font-weight="normal" text-anchor="start" textLength="24.6" lengthAdjust="spacingAndGlyphs" >0.00000</text>
<rect x="581" y="329.2" width="32.6" height="8.4" fill="#343744" rx="1"/>
<line x1="581" y1="333.4" x2="584" y2="333.4" stroke="#fff" stroke-width="0.7" opacity="0.7"/>
<text x="585.8" y="336.09999999999997" font-size="7.4" fill="#fff" font-weight="bold" text-anchor="start" textLength="24.8" lengthAdjust="spacingAndGlyphs" >0.00346</text>
<rect x="557.2" y="329.2" width="23.2" height="8.4" fill="#343744" rx="1"/>
<text x="568.8" y="336.0" font-size="7" fill="#fff" font-weight="bold" text-anchor="middle" textLength="17.699999999999932" lengthAdjust="spacingAndGlyphs" >MACD</text>
<rect x="581" y="339.1" width="32.6" height="8.4" fill="#c65a2a" rx="1"/>
<line x1="581" y1="343.3" x2="584" y2="343.3" stroke="#fff" stroke-width="0.7" opacity="0.7"/>
<text x="585.8" y="346.0" font-size="7.4" fill="#fff" font-weight="bold" text-anchor="start" textLength="24.8" lengthAdjust="spacingAndGlyphs" >0.00254</text>
<rect x="555.8" y="339.1" width="24.6" height="8.4" fill="#c65a2a" rx="1"/>
<text x="568.0999999999999" y="345.90000000000003" font-size="7" fill="#fff" font-weight="bold" text-anchor="middle" textLength="19.100000000000023" lengthAdjust="spacingAndGlyphs" >Signal</text>
<rect x="581" y="348.7" width="32.6" height="8.4" fill="#a3a5ad" rx="1"/>
<line x1="581" y1="352.9" x2="584" y2="352.9" stroke="#26262a" stroke-width="0.7" opacity="0.7"/>
<text x="585.8" y="355.59999999999997" font-size="7.4" fill="#26262a" font-weight="bold" text-anchor="start" textLength="24.8" lengthAdjust="spacingAndGlyphs" >0.00091</text>
<rect x="543.5" y="348.7" width="36.9" height="8.4" fill="#a3a5ad" rx="1"/>
<text x="561.95" y="355.5" font-size="7" fill="#26262a" font-weight="bold" text-anchor="middle" textLength="31.399999999999977" lengthAdjust="spacingAndGlyphs" >Histogram</text>
<line x1="36.8" y1="382.4" x2="36.8" y2="384.6" stroke="#555" stroke-width="0.8"/>
<text x="36.2" y="392.8" font-size="6.9" fill="#222" font-weight="bold" text-anchor="middle" >Feb</text>
<line x1="85.0" y1="382.4" x2="85.0" y2="384.6" stroke="#555" stroke-width="0.8"/>
<text x="84.5" y="392.8" font-size="7.2" fill="#222" font-weight="normal" text-anchor="middle" >15</text>
<line x1="133.2" y1="382.4" x2="133.2" y2="384.6" stroke="#555" stroke-width="0.8"/>
<text x="132.7" y="392.8" font-size="6.9" fill="#222" font-weight="bold" text-anchor="middle" >Mar</text>
<line x1="181.4" y1="382.4" x2="181.4" y2="384.6" stroke="#555" stroke-width="0.8"/>
<text x="180.9" y="392.8" font-size="7.2" fill="#222" font-weight="normal" text-anchor="middle" >15</text>
<line x1="244.1" y1="382.4" x2="244.1" y2="384.6" stroke="#555" stroke-width="0.8"/>
<text x="243.5" y="392.8" font-size="6.9" fill="#222" font-weight="bold" text-anchor="middle" >Apr</text>
<line x1="301.9" y1="382.4" x2="301.9" y2="384.6" stroke="#555" stroke-width="0.8"/>
<text x="301.4" y="392.8" font-size="7.2" fill="#222" font-weight="normal" text-anchor="middle" >19</text>
<line x1="350.1" y1="382.4" x2="350.1" y2="384.6" stroke="#555" stroke-width="0.8"/>
<text x="349.6" y="392.8" font-size="6.9" fill="#222" font-weight="bold" text-anchor="middle" >May</text>
<line x1="398.3" y1="382.4" x2="398.3" y2="384.6" stroke="#555" stroke-width="0.8"/>
<text x="397.8" y="392.8" font-size="7.2" fill="#222" font-weight="normal" text-anchor="middle" >17</text>
<line x1="451.3" y1="382.4" x2="451.3" y2="384.6" stroke="#555" stroke-width="0.8"/>
<text x="450.8" y="392.8" font-size="6.9" fill="#222" font-weight="bold" text-anchor="middle" >Jun</text>
<line x1="499.5" y1="382.4" x2="499.5" y2="384.6" stroke="#555" stroke-width="0.8"/>
<text x="499.0" y="392.8" font-size="7.2" fill="#222" font-weight="normal" text-anchor="middle" >15</text>
<line x1="557.4" y1="382.4" x2="557.4" y2="384.6" stroke="#555" stroke-width="0.8"/>
<text x="556.8" y="392.8" font-size="6.9" fill="#222" font-weight="bold" text-anchor="middle" >Jul</text>
<g transform="translate(4,405)">
<path d="M3.2 11 C1.2 11 0 9.6 0 8 C0 6.4 1.2 5.2 2.8 5.1 C3.2 2.8 5 1.2 7.2 1.2 C8.8 1.2 10.2 2 11 3.4 C11.5 3.2 12 3.1 12.5 3.1 C14.6 3.1 16.2 4.8 16.2 6.9 C16.2 9.2 14.6 11 12.4 11 Z" fill="#2a98e8"/>
<polyline points="1.8,8.6 5.4,5.6 8,8 11.2,5.2 14.4,7.6" fill="none" stroke="#fff" stroke-width="1.2" stroke-linejoin="round" stroke-linecap="round"/>
</g>
<text x="21.3" y="414.4" font-size="9.6" fill="#3a3a3a" font-weight="normal" text-anchor="start" textLength="42.6" lengthAdjust="spacingAndGlyphs" >TradingView</text>
</svg>
</body></html>
